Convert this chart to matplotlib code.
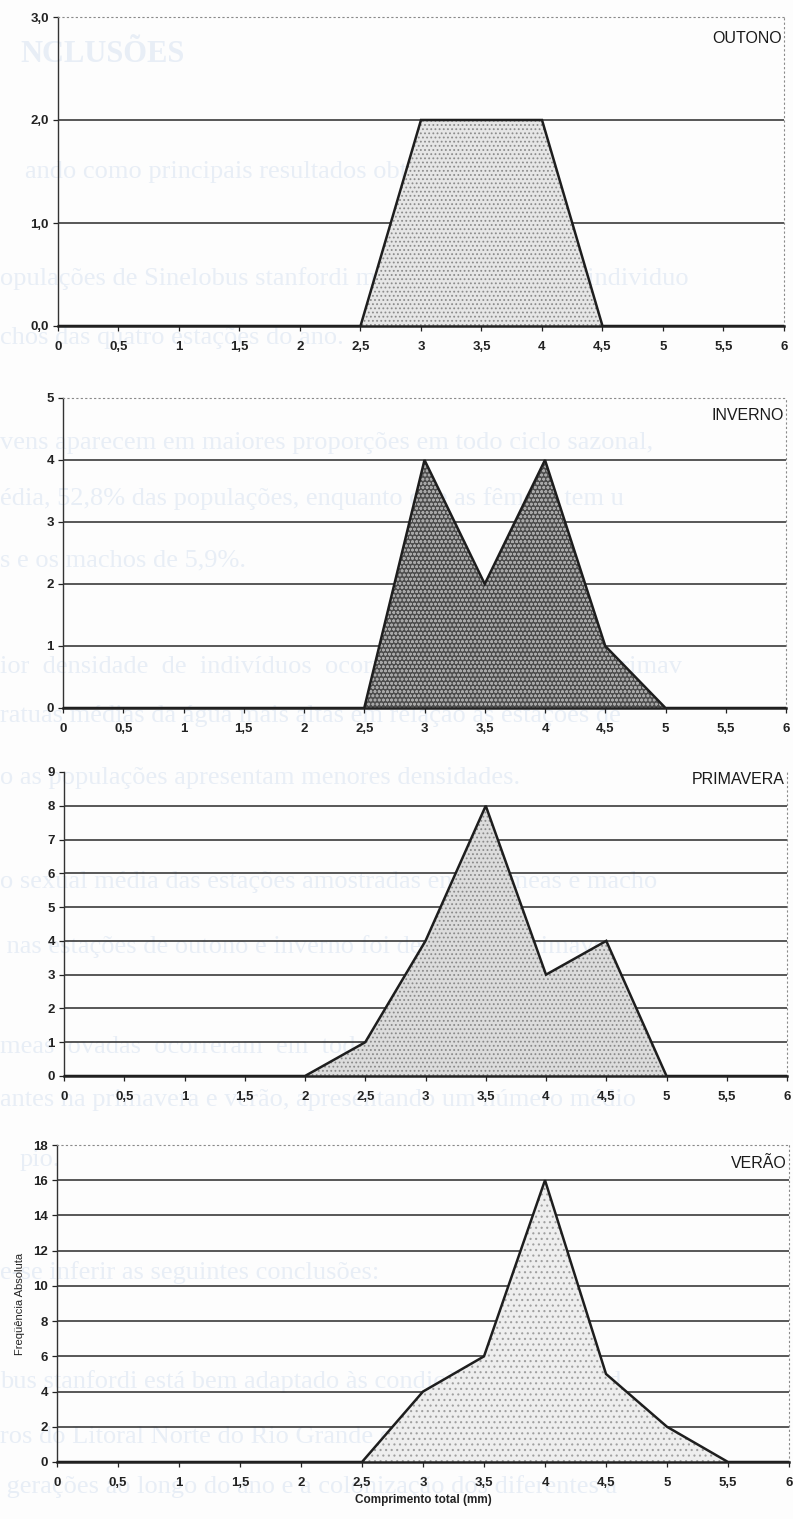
"""Seasonal length-frequency polygons (OUTONO, INVERNO, PRIMAVERA, VERAO)."""
import matplotlib
matplotlib.use("Agg")
import matplotlib.pyplot as plt
import numpy as np

plt.rcParams.update({
    "font.family": ["Liberation Sans", "DejaVu Sans"],
    "font.size": 9,
    "hatch.linewidth": 0.8,
})

W, H = 793, 1519

# length classes (mm) and absolute frequencies per season
comprimento = [0, 0.5, 1, 1.5, 2, 2.5, 3, 3.5, 4, 4.5, 5, 5.5, 6]
outono = [0, 0, 0, 0, 0, 0, 2, 2, 2, 0, 0, 0, 0]
inverno = [0, 0, 0, 0, 0, 0, 4, 2, 4, 1, 0, 0, 0]
primavera = [0, 0, 0, 0, 0, 1, 4, 8, 3, 4, 0, 0, 0]
verao = [0, 0, 0, 0, 0, 0, 4, 6, 16, 5, 2, 0, 0]
estacoes = ["OUTONO", "INVERNO", "PRIMAVERA", "VERÃO"]

# y tick sets for each panel
yticks_outono = [0, 1, 2, 3]
yticks_inverno = [0, 1, 2, 3, 4, 5]
yticks_primavera = [0, 1, 2, 3, 4, 5, 6, 7, 8, 9]
yticks_verao = [0, 2, 4, 6, 8, 10, 12, 14, 16, 18]

# faint text from the facing page showing through the paper
fundo = [
    (20, 55, "NCLUSÕES", 22, "bold"),
    (25, 172, "ando como principais resultados obtidos:", 19, "normal"),
    (0, 279, "opulações de Sinelobus stanfordi mostraram classes de individuo", 19, "normal"),
    (0, 338, "chos das quatro estações do ano.", 19, "normal"),
    (0, 443, "vens aparecem em maiores proporções em todo ciclo sazonal,", 19, "normal"),
    (0, 499, "édia, 52,8% das populações, enquanto que as fêmeas tem u", 19, "normal"),
    (0, 560, "s e os machos de 5,9%.", 19, "normal"),
    (0, 667, "ior  densidade  de  indivíduos  ocorreu  nas  estações  de  primav", 19, "normal"),
    (0, 716, "ratuas médias da água mais altas em relação às estações de", 19, "normal"),
    (0, 778, "o as populações apresentam menores densidades.", 19, "normal"),
    (0, 882, "o sexual média das estações amostradas entre fêmeas e macho", 19, "normal"),
    (0, 947, " nas estações de outono e inverno foi de 1:1 e de primave", 19, "normal"),
    (0, 1047, "meas  ovadas  ocorreram  em  todas  as  estações  do  ano,  s", 19, "normal"),
    (0, 1100, "antes na primavera e verão, apresentando um número médio", 19, "normal"),
    (20, 1160, "pio.", 19, "normal"),
    (0, 1273, "e-se inferir as seguintes conclusões:", 19, "normal"),
    (0, 1382, "bus stanfordi está bem adaptado às condições ambientais d", 19, "normal"),
    (0, 1437, "ros do Litoral Norte do Rio Grande do Sul, garantindo o des", 19, "normal"),
    (0, 1487, " gerações ao longo do ano e a colonização dos diferentes a", 19, "normal"),
]


def px_rect(left, right, top, bottom):
    return [left / W, 1 - bottom / H, (right - left) / W, (bottom - top) / H]


def dec(v, fmt="{:g}"):
    return fmt.format(v).replace(".", ",")


def painel(fig, rect, serie, yticks, nome, face, hatch_col, hatch,
           yfmt="{:g}", top_dotted=True, label_y=0.93):
    ax = fig.add_axes(rect)
    ax.patch.set_alpha(0)
    ax.set_xlim(0, 6)
    ax.set_ylim(0, yticks[-1])

    # horizontal rules at every inner tick
    for y in yticks[1:-1]:
        ax.axhline(y, color="#2a2a2a", lw=1.1, zorder=1)

    ax.fill_between(comprimento, serie, 0, facecolor=face, edgecolor=hatch_col,
                    hatch=hatch, linewidth=0, zorder=2)
    ax.plot(comprimento, serie, color="#1e1e1e", lw=1.8, zorder=3,
            solid_joinstyle="miter")

    for s in ("top", "right"):
        ax.spines[s].set_linestyle((0, (1, 3)))
        ax.spines[s].set_color("#8a8a8a")
        ax.spines[s].set_linewidth(0.8)
    ax.spines["top"].set_visible(top_dotted)
    ax.spines["left"].set_linewidth(1.0)
    ax.spines["left"].set_color("#333333")
    ax.spines["bottom"].set_linewidth(1.8)
    ax.spines["bottom"].set_color("#222222")

    ax.set_xticks(comprimento)
    ax.set_xticklabels([dec(v) for v in comprimento])
    ax.set_yticks(yticks)
    ax.set_yticklabels([dec(v, yfmt) for v in yticks])
    ax.tick_params(axis="both", direction="out", length=3.5, width=0.9,
                   labelsize=9.5, colors="#222222", pad=3)
    ax.tick_params(axis="x", pad=7)
    for lab in ax.get_xticklabels() + ax.get_yticklabels():
        lab.set_fontweight("bold")

    ax.text(0.997, label_y, nome, transform=ax.transAxes, ha="right",
            va="center", fontsize=11.5, color="#1a1a1a")
    return ax


fig = plt.figure(figsize=(W / 100, H / 100), dpi=100)
fig.patch.set_facecolor("#fdfdfd")

for x, y, txt, size, weight in fundo:
    fig.text(x / W, 1 - y / H, txt, fontsize=size, fontweight=weight,
             family=["Liberation Serif", "DejaVu Serif"], color="#e8eef6",
             ha="left", va="center", zorder=-5)

painel(fig, px_rect(58, 784, 17, 326), outono, yticks_outono, estacoes[0],
       "#e6e6e6", "#8c8c8c", "....", yfmt="{:.1f}", label_y=0.929)
painel(fig, px_rect(63, 786, 398, 708), inverno, yticks_inverno, estacoes[1],
       "#4c4c4c", "#a8a8a8", "oooo", label_y=0.942)
painel(fig, px_rect(64, 787, 772, 1076), primavera, yticks_primavera,
       estacoes[2], "#dcdcdc", "#8a8a8a", "....", top_dotted=False,
       label_y=0.974)
ax4 = painel(fig, px_rect(57, 789, 1145, 1462), verao, yticks_verao,
             estacoes[3], "#eeeeee", "#a0a0a0", "...", label_y=0.943)
ax4.set_ylabel("Freqüência Absoluta", fontsize=8, color="#222222", labelpad=6)
ax4.set_xlabel("Comprimento total (mm)", fontsize=8.5, fontweight="bold",
               color="#222222", labelpad=4)

fig.savefig("out.png", dpi=100, facecolor=fig.get_facecolor())
